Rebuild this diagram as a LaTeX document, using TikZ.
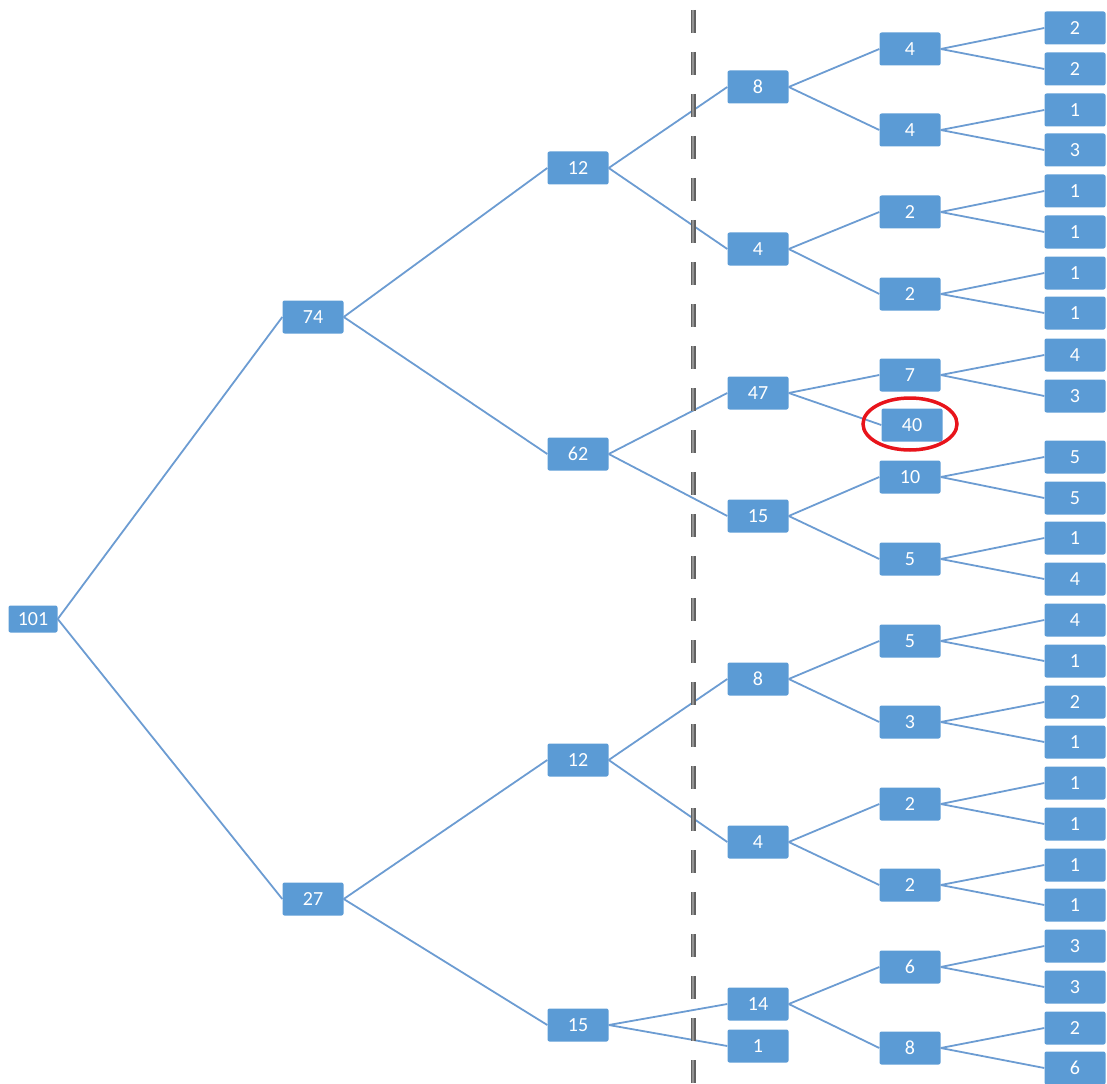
\documentclass[tikz,border=0pt]{standalone}
\usepackage{fontspec}
\setmainfont{Carlito}
\usetikzlibrary{shapes.geometric}
\definecolor{boxblue}{HTML}{5B9BD5}
\definecolor{lineblue}{HTML}{6C9CD2}
\definecolor{ringred}{HTML}{E8141B}
\begin{document}
\begin{tikzpicture}[x=1pt,y=-1pt,
  box/.style={fill=boxblue, text=white, rounded corners=2pt, minimum width=61pt, minimum height=33pt, inner sep=0pt, font=\fontsize{20}{22}\selectfont},
  smallbox/.style={box, minimum width=49pt, minimum height=27pt},
  link/.style={draw=lineblue, line width=1.8pt}]
\useasboundingbox (0,0) rectangle (1107,1083);
% level 1-2
\node[smallbox] (n0) at (33,619) {101};
\node[box] (a) at (313,317) {74};
\node[box] (b) at (313,899) {27};
% level 3
\node[box] (a1) at (578,168) {12};
\node[box] (a2) at (578,454) {62};
\node[box] (b1) at (578,760) {12};
\node[box] (b2) at (578,1025) {15};
% level 4
\node[box] (a11) at (758,87) {8};
\node[box] (a12) at (758,249) {4};
\node[box] (a21) at (758,393) {47};
\node[box] (a22) at (758,516) {15};
\node[box] (b11) at (758,679) {8};
\node[box] (b12) at (758,842) {4};
\node[box] (b21) at (758,1004) {14};
\node[box] (b22) at (758,1046) {1};
% level 5
\node[box] (a111) at (910,49) {4};
\node[box] (a112) at (910,130) {4};
\node[box] (a121) at (910,212) {2};
\node[box] (a122) at (910,294) {2};
\node[box] (a211) at (910,375) {7};
\node[box] (a212) at (912,425) {40};
\node[box] (a221) at (910,477) {10};
\node[box] (a222) at (910,559) {5};
\node[box] (b111) at (910,641) {5};
\node[box] (b112) at (910,722) {3};
\node[box] (b121) at (910,804) {2};
\node[box] (b122) at (910,885) {2};
\node[box] (b211) at (910,967) {6};
\node[box] (b212) at (910,1048) {8};
% level 6 leaves
\foreach \p/\ya/\ta/\yb/\tb in {a111/28/2/69/2, a112/110/1/150/3, a121/191/1/232/1, a122/273/1/313/1, a211/355/4/396/3, a221/457/5/498/5, a222/538/1/579/4, b111/620/4/661/1, b112/702/2/742/1, b121/783/1/824/1, b122/865/1/905/1, b211/946/3/987/3, b212/1028/2/1068/6}{
  \node[box] (\p1) at (1075,\ya) {\ta};
  \node[box] (\p2) at (1075,\yb) {\tb};
  \draw[link] (\p.east) -- (\p1.west);
  \draw[link] (\p.east) -- (\p2.west);
}
% inner links
\foreach \p/\c in {n0/a, n0/b, a/a1, a/a2, b/b1, b/b2, a1/a11, a1/a12, a2/a21, a2/a22, b1/b11, b1/b12, b2/b21, b2/b22, a11/a111, a11/a112, a12/a121, a12/a122, a21/a211, a21/a212, a22/a221, a22/a222, b11/b111, b11/b112, b12/b121, b12/b122, b21/b211, b21/b212}{
  \draw[link] (\p.east) -- (\c.west);
}
% dashed divider
\coordinate (dtop) at (693,10);
\coordinate (dbot) at (693,1083);
\draw[draw=black!62, line width=5pt, dash pattern=on 23pt off 19pt] (dtop) -- (dbot);
\draw[draw=black!42, line width=1.8pt, dash pattern=on 23pt off 19pt] (dtop) -- (dbot);
% red ring
\node[draw=ringred, line width=3.5pt, ellipse, minimum width=94pt, minimum height=52pt, inner sep=0pt] (ring) at (910,424) {};
\end{tikzpicture}
\end{document}
